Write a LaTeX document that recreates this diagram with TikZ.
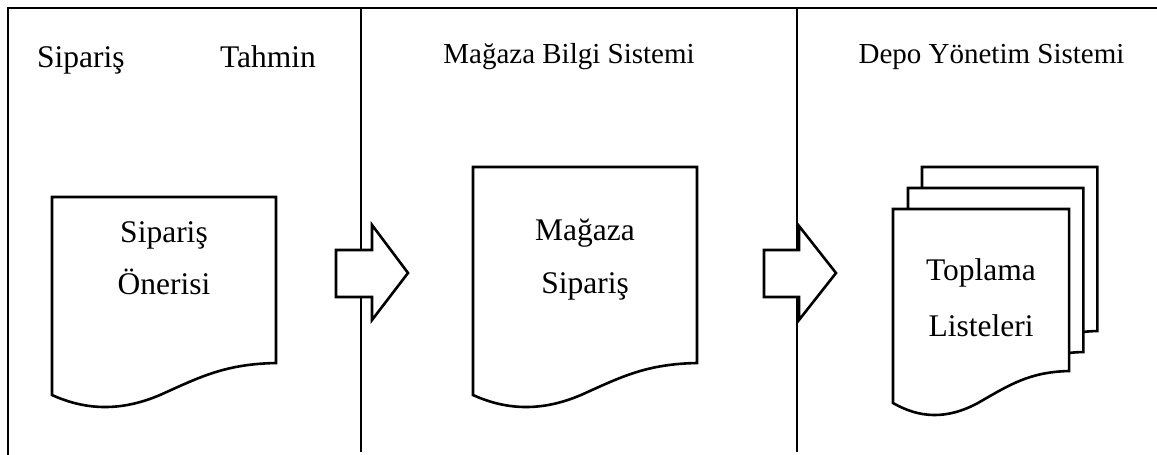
\documentclass[tikz,border=0pt]{standalone}
\usepackage{fontspec}
\setmainfont{Liberation Serif}
\tikzset{
  frameline/.style={line width=1.8pt, line cap=butt},
  docline/.style={line width=2.6pt, fill=white, line join=miter},
  blockarrow/.style={line width=2.6pt, fill=white, line join=miter},
  headtext/.style={inner sep=0pt, anchor=base, font=\fontsize{29}{34}\selectfont},
  bigtext/.style={inner sep=0pt, font=\fontsize{31.5}{36}\selectfont},
  doctext/.style={bigtext, anchor=base},
}
% document symbol: left edge x, baseline of the right edge, horizontal scale, height above that point
\newcommand\docsymbol[4]{%
  \begin{scope}[shift={(#1,#2)}, xscale=#3]
    \filldraw[docline] (0,32) -- (0,-#4) -- (224,-#4) -- (224,0)
      .. controls (173,1) and (148,14) .. (108,32)
      .. controls (68,49) and (33,47) .. cycle;
  \end{scope}}
\begin{document}
\begin{tikzpicture}[x=1pt, y=-1pt]
  \useasboundingbox[fill=white] (0,0) rectangle (1157,455);

  % swimlane frame
  \draw[frameline] (8,455) -- (8,8) -- (1157,8);
  \draw[frameline] (361,8) -- (361,452);
  \draw[frameline] (797,8) -- (797,452);

  % lane titles
  \node[bigtext, anchor=base west] (t1a) at (37,67) {Sipariş};
  \node[bigtext, anchor=base east] (t1b) at (316,67) {Tahmin};
  \node[headtext] (t2) at (569,63) {Mağaza Bilgi Sistemi};
  \node[headtext] (t3) at (991.5,63) {Depo Yönetim Sistemi};

  % documents
  \docsymbol{52}{363}{1}{166}
  \node[doctext] (d1a) at (164,242) {Sipariş};
  \node[doctext] (d1b) at (164,294) {Önerisi};

  \docsymbol{473}{363}{1}{196}
  \node[doctext] (d2a) at (585,240) {Mağaza};
  \node[doctext] (d2b) at (585,293) {Sipariş};

  % stacked documents
  \docsymbol{922}{331}{0.783}{164}
  \docsymbol{908}{352}{0.783}{164}
  \docsymbol{893}{371}{0.786}{162}
  \node[doctext] (d3a) at (981,280) {Toplama};
  \node[doctext] (d3b) at (981,336) {Listeleri};

  % block arrows between lanes
  \filldraw[blockarrow] (336,250) -- (372,250) -- (372,225) -- (408,273)
    -- (372,320) -- (372,297) -- (336,297) -- cycle;
  \filldraw[blockarrow] (764,250) -- (799,250) -- (799,226) -- (836,273)
    -- (799,320) -- (799,297) -- (764,297) -- cycle;
\end{tikzpicture}
\end{document}
